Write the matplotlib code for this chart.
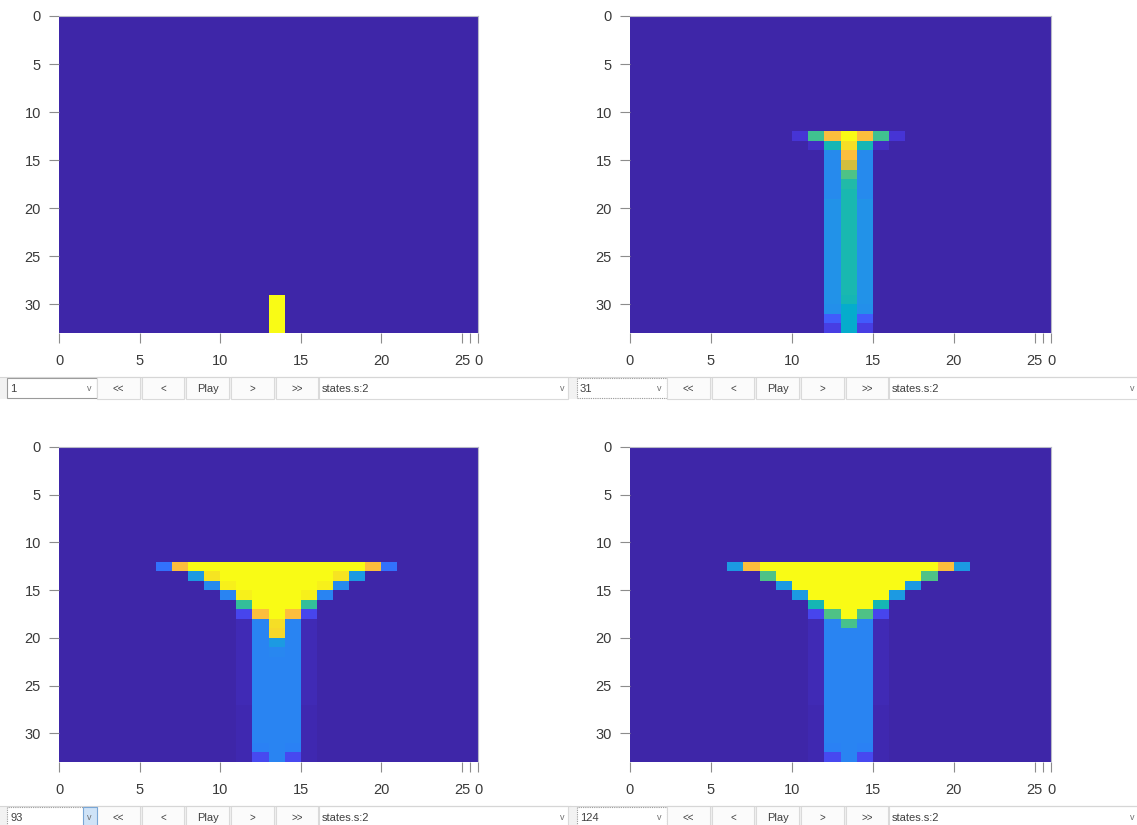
import numpy as np
import matplotlib
matplotlib.use("Agg")
import matplotlib.pyplot as plt
from matplotlib.colors import LinearSegmentedColormap
from matplotlib.patches import Rectangle

plt.rcParams['font.family'] = ['Liberation Sans', 'DejaVu Sans']

N_ROWS = 33
N_COLS = 26
x_ticks = [0, 5, 10, 15, 20, 25, 25.5, 26]
x_tick_labels = ["0", "5", "10", "15", "20", "25", "", "0"]
y_ticks = [0, 5, 10, 15, 20, 25, 30]
frame_labels = ["1", "31", "93", "124"]
button_labels = ["<<", "<", "Play", ">", ">>"]
field_label = "states.s:2"

# Each entry: (row, first column, cell values left -> right)
frame_1_cells = [
    (29, 13, [1.0]),
    (30, 13, [1.0]),
    (31, 13, [1.0]),
    (32, 13, [1.0]),
]

frame_31_cells = [
    (12, 10, [0.05, 0.60, 0.90, 1.00, 0.90, 0.60, 0.05]),
    (13, 11, [0.03, 0.52, 0.95, 0.52, 0.03]),
    (14, 12, [0.30, 0.90, 0.30]),
    (15, 12, [0.30, 0.82, 0.30]),
    (16, 12, [0.30, 0.62, 0.30]),
    (17, 12, [0.30, 0.55, 0.30]),
    (18, 12, [0.30, 0.53, 0.30]),
    (19, 12, [0.33, 0.53, 0.33]),
    (20, 12, [0.33, 0.53, 0.33]),
    (21, 12, [0.33, 0.53, 0.33]),
    (22, 12, [0.33, 0.53, 0.33]),
    (23, 12, [0.33, 0.53, 0.33]),
    (24, 12, [0.33, 0.53, 0.33]),
    (25, 12, [0.33, 0.53, 0.33]),
    (26, 12, [0.33, 0.53, 0.33]),
    (27, 12, [0.33, 0.53, 0.33]),
    (28, 12, [0.33, 0.53, 0.33]),
    (29, 12, [0.33, 0.52, 0.33]),
    (30, 12, [0.32, 0.45, 0.32]),
    (31, 12, [0.16, 0.45, 0.16]),
    (32, 12, [0.08, 0.45, 0.08]),
]

frame_93_cells = [
    (12, 6, [0.22, 0.90, 1.0, 1.0, 1.0, 1.0, 1.0, 1.0, 1.0, 1.0, 1.0, 1.0, 1.0, 0.90, 0.22]),
    (13, 8, [0.36, 0.96, 1.0, 1.0, 1.0, 1.0, 1.0, 1.0, 1.0, 0.96, 0.36]),
    (14, 9, [0.30, 0.98, 1.0, 1.0, 1.0, 1.0, 1.0, 0.98, 0.30]),
    (15, 10, [0.28, 0.98, 1.0, 1.0, 1.0, 0.98, 0.28]),
    (16, 11, [0.58, 1.0, 1.0, 1.0, 0.58]),
    (17, 11, [0.10, 0.90, 1.0, 0.90, 0.10]),
    (18, 11, [0.015, 0.28, 0.95, 0.28, 0.015]),
    (19, 11, [0.015, 0.28, 0.94, 0.28, 0.015]),
    (20, 11, [0.015, 0.28, 0.36, 0.28, 0.015]),
    (21, 11, [0.015, 0.28, 0.29, 0.28, 0.015]),
    (22, 11, [0.015, 0.28, 0.28, 0.28, 0.015]),
    (23, 11, [0.015, 0.28, 0.28, 0.28, 0.015]),
    (24, 11, [0.015, 0.28, 0.28, 0.28, 0.015]),
    (25, 11, [0.015, 0.28, 0.28, 0.28, 0.015]),
    (26, 11, [0.015, 0.28, 0.28, 0.28, 0.015]),
    (27, 11, [0.008, 0.28, 0.28, 0.28, 0.008]),
    (28, 11, [0.008, 0.28, 0.28, 0.28, 0.008]),
    (29, 11, [0.008, 0.28, 0.28, 0.28, 0.008]),
    (30, 11, [0.008, 0.28, 0.28, 0.28, 0.008]),
    (31, 11, [0.008, 0.27, 0.28, 0.27, 0.008]),
    (32, 11, [0.008, 0.11, 0.28, 0.11, 0.008]),
]

frame_124_cells = [
    (12, 6, [0.36, 0.90, 1.0, 1.0, 1.0, 1.0, 1.0, 1.0, 1.0, 1.0, 1.0, 1.0, 1.0, 0.90, 0.36]),
    (13, 8, [0.62, 1.0, 1.0, 1.0, 1.0, 1.0, 1.0, 1.0, 1.0, 1.0, 0.62]),
    (14, 9, [0.36, 1.0, 1.0, 1.0, 1.0, 1.0, 1.0, 1.0, 0.36]),
    (15, 10, [0.36, 1.0, 1.0, 1.0, 1.0, 1.0, 0.36]),
    (16, 11, [0.52, 1.0, 1.0, 1.0, 0.52]),
    (17, 11, [0.10, 0.62, 1.0, 0.62, 0.10]),
    (18, 11, [0.015, 0.28, 0.61, 0.28, 0.015]),
    (19, 11, [0.015, 0.28, 0.28, 0.28, 0.015]),
    (20, 11, [0.015, 0.28, 0.28, 0.28, 0.015]),
    (21, 11, [0.015, 0.28, 0.28, 0.28, 0.015]),
    (22, 11, [0.015, 0.28, 0.28, 0.28, 0.015]),
    (23, 11, [0.015, 0.28, 0.28, 0.28, 0.015]),
    (24, 11, [0.015, 0.28, 0.28, 0.28, 0.015]),
    (25, 11, [0.015, 0.28, 0.28, 0.28, 0.015]),
    (26, 11, [0.015, 0.28, 0.28, 0.28, 0.015]),
    (27, 11, [0.008, 0.28, 0.28, 0.28, 0.008]),
    (28, 11, [0.008, 0.28, 0.28, 0.28, 0.008]),
    (29, 11, [0.008, 0.28, 0.28, 0.28, 0.008]),
    (30, 11, [0.008, 0.28, 0.28, 0.28, 0.008]),
    (31, 11, [0.008, 0.27, 0.28, 0.27, 0.008]),
    (32, 11, [0.008, 0.11, 0.28, 0.11, 0.008]),
]

frames = [frame_1_cells, frame_31_cells, frame_93_cells, frame_124_cells]

# approximate MATLAB parula colormap
parula_stops = [
    (0.00, (0.2422, 0.1504, 0.6603)),
    (0.05, (0.2740, 0.2040, 0.8400)),
    (0.10, (0.2800, 0.2700, 0.9300)),
    (0.15, (0.2650, 0.3450, 0.9850)),
    (0.20, (0.2100, 0.4200, 0.9950)),
    (0.25, (0.1750, 0.4850, 0.9750)),
    (0.30, (0.1500, 0.5400, 0.9300)),
    (0.35, (0.1200, 0.5950, 0.8950)),
    (0.40, (0.0700, 0.6350, 0.8600)),
    (0.45, (0.0200, 0.6750, 0.8000)),
    (0.50, (0.0500, 0.7050, 0.7350)),
    (0.55, (0.1300, 0.7300, 0.6600)),
    (0.60, (0.2500, 0.7550, 0.5650)),
    (0.65, (0.3900, 0.7700, 0.4700)),
    (0.70, (0.5300, 0.7700, 0.3900)),
    (0.75, (0.6600, 0.7600, 0.3200)),
    (0.80, (0.7800, 0.7500, 0.2500)),
    (0.85, (0.8900, 0.7400, 0.2200)),
    (0.90, (0.9900, 0.7450, 0.2400)),
    (0.95, (0.9600, 0.8700, 0.1500)),
    (1.00, (0.9769, 0.9839, 0.0805)),
]
parula = LinearSegmentedColormap.from_list("parula", parula_stops, N=512)

W, H = 1137, 825
fig = plt.figure(figsize=(W / 100, H / 100), dpi=100)
fig.patch.set_facecolor("white")

def fx(x):
    return x / W

def fy(y):
    return 1 - y / H

# pixel layout: (left, top, right, bottom) of each heatmap; bar x offset; control bar top y
panel_boxes = [
    (59, 16, 478, 333, 0, 377),
    (630, 16, 1051, 333, 570, 377),
    (59, 447, 478, 762, 0, 806),
    (630, 447, 1051, 762, 570, 806),
]

def build_matrix(cells):
    m = np.zeros((N_ROWS, N_COLS))
    for row, c0, vals in cells:
        m[row, c0:c0 + len(vals)] = vals
    return m

for i, (l, t, r, b, ox, cy) in enumerate(panel_boxes):
    ax = fig.add_axes([fx(l), fy(b), fx(r - l), (b - t) / H])
    m = build_matrix(frames[i])
    ax.pcolormesh(np.arange(N_COLS + 1), np.arange(N_ROWS + 1), m,
                  cmap=parula, vmin=0, vmax=1, shading="flat")
    ax.set_xlim(0, N_COLS)
    ax.set_ylim(N_ROWS, 0)
    ax.set_xticks(x_ticks)
    ax.set_xticklabels(x_tick_labels)
    ax.set_yticks(y_ticks)
    ax.set_yticklabels([str(v) for v in y_ticks])
    ax.tick_params(axis="both", direction="out", length=7, width=0.8,
                   color="#8c8c8c", labelcolor="#3a3a3a", labelsize=10.5)
    ax.tick_params(axis="x", pad=8)
    ax.tick_params(axis="y", pad=6)
    for side in ["top", "right"]:
        ax.spines[side].set_color("#b8b8c8")
        ax.spines[side].set_linewidth(0.8)
    for side in ["left", "bottom"]:
        ax.spines[side].set_visible(False)

    # control bar
    bh = 22
    fig.patches.append(Rectangle((fx(ox), fy(cy + bh)), fx(570), bh / H,
                                 transform=fig.transFigure, facecolor="#f2f2f2",
                                 edgecolor="none", zorder=0))
    fig.add_artist(plt.Line2D([fx(ox), fx(ox + 570)], [fy(cy), fy(cy)],
                              transform=fig.transFigure, color="#d6d6d6", lw=0.8))
    # frame combobox
    focus = i > 0
    fig.patches.append(Rectangle((fx(ox + 7), fy(cy + bh - 1)), fx(90), (bh - 2) / H,
                                 transform=fig.transFigure, facecolor="white",
                                 edgecolor="#9a9a9a", lw=0.8,
                                 linestyle=(0, (1, 1)) if focus else "-", zorder=1))
    fig.text(fx(ox + 10), fy(cy + bh / 2 + 1), frame_labels[i], fontsize=8,
             color="#404040", va="center", ha="left")
    if i == 2:
        fig.patches.append(Rectangle((fx(ox + 83), fy(cy + bh - 1)), fx(14), (bh - 2) / H,
                                     transform=fig.transFigure, facecolor="#cfe3f7",
                                     edgecolor="#7aa7d6", lw=0.8, zorder=2))
    fig.text(fx(ox + 89), fy(cy + bh / 2 + 1), "v", fontsize=6.5, color="#707070",
             va="center", ha="center", zorder=3)
    # buttons
    btn_edges = [(97, 140), (142, 184), (186, 229), (231, 274), (276, 318)]
    for (a, bb), lab in zip(btn_edges, button_labels):
        fig.patches.append(Rectangle((fx(ox + a), fy(cy + bh)), fx(bb - a), bh / H,
                                     transform=fig.transFigure, facecolor="#fbfbfb",
                                     edgecolor="#dadada", lw=0.8, zorder=1))
        fig.text(fx(ox + (a + bb) / 2), fy(cy + bh / 2 + 1), lab,
                 fontsize=7 if lab != "Play" else 8, color="#404040",
                 va="center", ha="center")
    # states combobox
    fig.patches.append(Rectangle((fx(ox + 319), fy(cy + bh)), fx(249), bh / H,
                                 transform=fig.transFigure, facecolor="white",
                                 edgecolor="#dadada", lw=0.8, zorder=1))
    fig.text(fx(ox + 322), fy(cy + bh / 2 + 1), field_label, fontsize=8,
             color="#404040", va="center", ha="left")
    fig.text(fx(ox + 562), fy(cy + bh / 2 + 1), "v", fontsize=6.5, color="#707070",
             va="center", ha="center")

fig.savefig("out.png", dpi=100, facecolor="white")
